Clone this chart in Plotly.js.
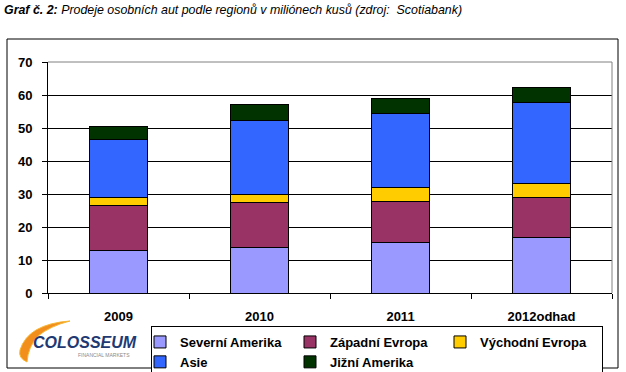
<!DOCTYPE html>
<html>
<head>
<meta charset="utf-8">
<script src="https://cdn.plot.ly/plotly-3.0.1.min.js"></script>
<style>html,body{margin:0;padding:0;background:#fff;}#chart{width:626px;height:372px;}</style>
</head>
<body>
<div id="chart"></div>
<script>
// ---- data (millions of units) ----
const years = ['2009', '2010', '2011', '2012odhad'];
const seriesNames = ['Severní Amerika', 'Západní Evropa', 'Východní Evropa', 'Asie', 'Jižní Amerika'];
const severniAmerika = [12.8, 13.9, 15.2, 16.7];
const zapadniEvropa  = [13.6, 13.4, 12.6, 12.1];
const vychodniEvropa = [2.4, 2.7, 4.3, 4.5];
const asie           = [17.6, 22.4, 22.4, 24.3];
const jizniAmerika   = [4.2, 4.6, 4.3, 4.8];
const yTicks = [0, 10, 20, 30, 40, 50, 60, 70];

const seriesValues = [severniAmerika, zapadniEvropa, vychodniEvropa, asie, jizniAmerika];
const colors = ['#9999FF', '#993366', '#FFCC00', '#3366FF', '#003300'];

const W = 626, H = 372;
const M = {l: 48, r: 14, t: 62, b: 79, autoexpand: false};
const PW = W - M.l - M.r, PH = H - M.t - M.b;
const px = x => (x - M.l) / PW;
const py = y => (H - M.b - y) / PH;

const FONT = 'Liberation Sans, Arial, sans-serif';

const traces = seriesNames.map((name, i) => ({
  type: 'bar',
  name: name,
  x: years,
  y: seriesValues[i],
  marker: {color: colors[i], line: {color: '#000', width: 1}},
  hoverinfo: 'x+y+name'
}));

function swooshPath() {
  const p = (x, y) => px(x).toFixed(4) + ',' + py(y).toFixed(4);
  return 'M' + p(70, 321) +
         ' Q' + p(28, 324) + ' ' + p(20, 350) +
         ' Q' + p(18, 358) + ' ' + p(27, 362) +
         ' Q' + p(28, 347) + ' ' + p(38, 336) +
         ' Q' + p(50, 326) + ' ' + p(70, 321) + ' Z';
}

const layout = {
  width: W, height: H,
  margin: M,
  paper_bgcolor: '#fff',
  plot_bgcolor: '#fff',
  barmode: 'stack',
  bargap: 0.59,
  showlegend: true,
  font: {family: FONT, color: '#000'},
  title: {
    text: '<b><i>Graf č. 2:</i></b><i> Prodeje osobních aut podle regionů v miliónech kusů (zdroj:  Scotiabank)</i>',
    x: 4 / W, xref: 'container', xanchor: 'left',
    y: 1 - 9.5 / H, yref: 'container', yanchor: 'middle',
    font: {family: FONT, size: 12.4, color: '#000'}
  },
  xaxis: {
    type: 'category',
    tickson: 'boundaries',
    ticks: 'outside', ticklen: 5, tickcolor: '#000', tickwidth: 1,
    showline: true, linecolor: '#000', linewidth: 1,
    showgrid: false,
    ticklabelstandoff: 11,
    tickfont: {family: FONT, size: 13, weight: 'bold', color: '#000'},
    fixedrange: true
  },
  yaxis: {
    range: [0, 70],
    tickvals: yTicks,
    ticks: 'outside', ticklen: 5, tickcolor: '#000', tickwidth: 1,
    showline: true, linecolor: '#000', linewidth: 1,
    showgrid: true, gridcolor: '#000', gridwidth: 1,
    zeroline: false,
    ticklabelstandoff: 7,
    tickfont: {family: FONT, size: 13, weight: 'bold', color: '#000'},
    fixedrange: true
  },
  legend: {
    orientation: 'h',
    x: px(151), xanchor: 'left',
    y: py(326), yanchor: 'top',
    bordercolor: '#000', borderwidth: 1,
    bgcolor: '#fff',
    traceorder: 'normal',
    entrywidth: 117, entrywidthmode: 'pixels',
    indentation: -12,
    font: {family: FONT, size: 13, weight: 'bold', color: '#000'}
  },
  shapes: [
    // outer frame
    {type: 'rect', xref: 'paper', yref: 'paper', x0: px(7), x1: px(618), y0: py(368), y1: py(39),
     line: {color: '#000', width: 1}, layer: 'below'},
    // plot area border (grey top and right)
    {type: 'line', xref: 'paper', yref: 'paper', x0: 0, x1: 1, y0: 1, y1: 1,
     line: {color: '#808080', width: 1}, layer: 'above'},
    {type: 'line', xref: 'paper', yref: 'paper', x0: 1, x1: 1, y0: 0, y1: 1,
     line: {color: '#808080', width: 1}, layer: 'above'},
    // logo swoosh
    {type: 'path', xref: 'paper', yref: 'paper', path: swooshPath(),
     fillcolor: '#F28E1C', line: {color: '#F7B733', width: 1}, layer: 'above'}
  ],
  annotations: [
    {xref: 'paper', yref: 'paper', x: px(85), y: py(342.5), xanchor: 'center', yanchor: 'middle',
     text: '<b><i>COLOSSEUM</i></b>', showarrow: false,
     font: {family: 'Liberation Sans Narrow, Liberation Sans, sans-serif', size: 16, color: '#1F3A73'}},
    {xref: 'paper', yref: 'paper', x: px(132), y: py(355), xanchor: 'right', yanchor: 'middle',
     text: 'FINANCIAL MARKETS', showarrow: false,
     font: {family: FONT, size: 5, color: '#8A8A8A'}}
  ]
};

Plotly.newPlot('chart', traces, layout, {displayModeBar: false, staticPlot: true});
</script>
</body>
</html>
